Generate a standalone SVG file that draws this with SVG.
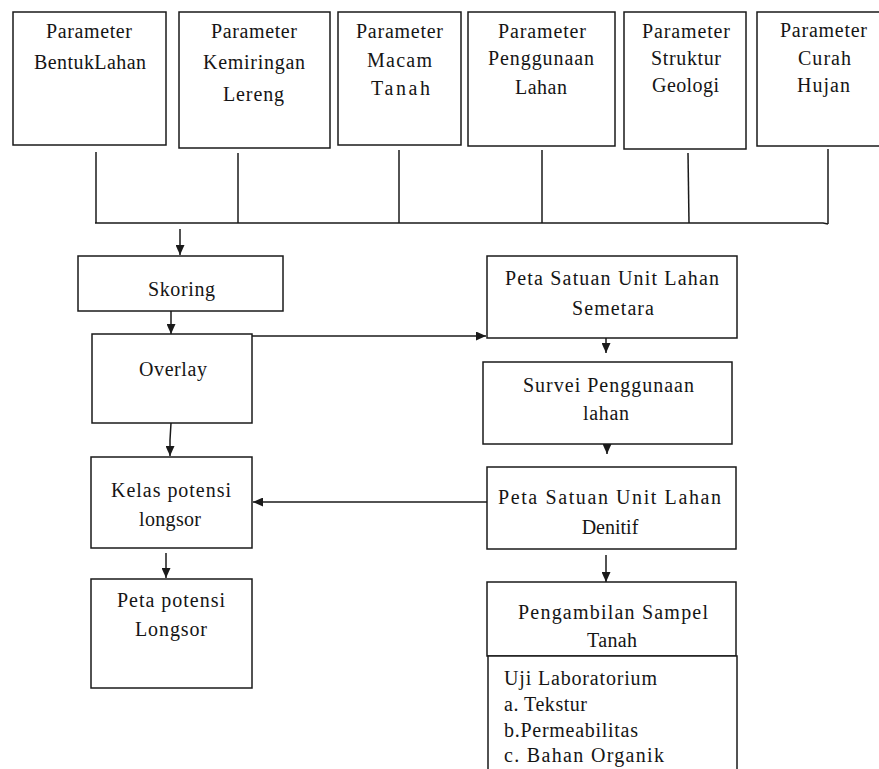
<svg xmlns="http://www.w3.org/2000/svg" width="879" height="769" viewBox="0 0 879 769" font-family="Liberation Serif, DejaVu Serif, serif">
<style>
.b{fill:#fff;stroke:#1a1a1a;stroke-width:1.5}
.t{font-family:'Liberation Serif','Times New Roman',serif;font-size:20px;fill:#151515}
.c{fill:none;stroke:#1a1a1a;stroke-width:1.5}
</style>
<defs>
<marker id="ah" viewBox="0 0 10 10" refX="10" refY="5" markerWidth="10" markerHeight="9" markerUnits="userSpaceOnUse" orient="auto" preserveAspectRatio="none">
<path d="M0,0 L10,5 L0,10 z" fill="#1a1a1a"/>
</marker>
</defs>
<rect width="879" height="769" fill="#fff"/>
<g id="connectors">
<path class="c" d="M96,152 V223"/>
<path class="c" d="M238,153 V223"/>
<path class="c" d="M399,150 V223"/>
<path class="c" d="M542,150 V223"/>
<path class="c" d="M688,153 L689,223"/>
<path class="c" d="M828,149 V224"/>
<path class="c" d="M95,223 H823 L828,224"/>
<path class="c" d="M180,229 V255" marker-end="url(#ah)"/>
<path class="c" d="M171,311 V334" marker-end="url(#ah)"/>
<path class="c" d="M252,336 H486" marker-end="url(#ah)"/>
<path class="c" d="M171,423 L170,440 V456" marker-end="url(#ah)"/>
<path class="c" d="M166,553 V578" marker-end="url(#ah)"/>
<path class="c" d="M487,502 H253" marker-end="url(#ah)"/>
<path class="c" d="M606,338 V353" marker-end="url(#ah)"/>
<path class="c" d="M607,444 V454" marker-end="url(#ah)"/>
<path class="c" d="M606,555 V582" marker-end="url(#ah)"/>
</g>
<g id="p-bentuk">
<rect class="b" x="13" y="12" width="153" height="133"/>
<text class="t" x="46" y="38" textLength="86" lengthAdjust="spacing">Parameter</text>
<text class="t" x="34" y="69" textLength="112" lengthAdjust="spacing">BentukLahan</text>
</g>
<g id="p-kemiringan">
<rect class="b" x="179" y="12" width="151" height="136"/>
<text class="t" x="211" y="38" textLength="86" lengthAdjust="spacing">Parameter</text>
<text class="t" x="203" y="69" textLength="102" lengthAdjust="spacing">Kemiringan</text>
<text class="t" x="223" y="101" textLength="61" lengthAdjust="spacing">Lereng</text>
</g>
<g id="p-macam">
<rect class="b" x="338" y="12" width="123" height="133"/>
<text class="t" x="356" y="38" textLength="87" lengthAdjust="spacing">Parameter</text>
<text class="t" x="367" y="67" textLength="65" lengthAdjust="spacing">Macam</text>
<text class="t" x="371" y="95" textLength="59" lengthAdjust="spacing">Tanah</text>
</g>
<g id="p-penggunaan">
<rect class="b" x="468" y="12" width="147" height="134"/>
<text class="t" x="498" y="38" textLength="88" lengthAdjust="spacing">Parameter</text>
<text class="t" x="488" y="65" textLength="106" lengthAdjust="spacing">Penggunaan</text>
<text class="t" x="515" y="94" textLength="52" lengthAdjust="spacing">Lahan</text>
</g>
<g id="p-struktur">
<rect class="b" x="624" y="12" width="122" height="137"/>
<text class="t" x="642" y="38" textLength="88" lengthAdjust="spacing">Parameter</text>
<text class="t" x="651" y="65" textLength="70" lengthAdjust="spacing">Struktur</text>
<text class="t" x="652" y="92" textLength="67" lengthAdjust="spacing">Geologi</text>
</g>
<g id="p-curah">
<rect class="b" x="757" y="12" width="135" height="134"/>
<text class="t" x="780" y="37" textLength="87" lengthAdjust="spacing">Parameter</text>
<text class="t" x="798" y="65" textLength="53" lengthAdjust="spacing">Curah</text>
<text class="t" x="797" y="92" textLength="53" lengthAdjust="spacing">Hujan</text>
</g>
<g id="skoring">
<rect class="b" x="78" y="256" width="205" height="55"/>
<text class="t" x="148" y="296" textLength="67" lengthAdjust="spacing">Skoring</text>
</g>
<g id="overlay">
<rect class="b" x="92" y="334" width="160" height="89"/>
<text class="t" x="139" y="376" textLength="68" lengthAdjust="spacing">Overlay</text>
</g>
<g id="kelas">
<rect class="b" x="91" y="457" width="161" height="91"/>
<text class="t" x="111" y="497" textLength="120" lengthAdjust="spacing">Kelas potensi</text>
<text class="t" x="139" y="526" textLength="62" lengthAdjust="spacing">longsor</text>
</g>
<g id="peta-potensi">
<rect class="b" x="91" y="579" width="161" height="109"/>
<text class="t" x="117" y="607" textLength="108" lengthAdjust="spacing">Peta potensi</text>
<text class="t" x="135" y="636" textLength="72" lengthAdjust="spacing">Longsor</text>
</g>
<g id="peta-semetara">
<rect class="b" x="487" y="256" width="250" height="82"/>
<text class="t" x="505" y="285" textLength="214" lengthAdjust="spacing">Peta Satuan Unit  Lahan</text>
<text class="t" x="572" y="315" textLength="82" lengthAdjust="spacing">Semetara</text>
</g>
<g id="survei">
<rect class="b" x="483" y="362" width="249" height="82"/>
<text class="t" x="523" y="392" textLength="171" lengthAdjust="spacing">Survei  Penggunaan</text>
<text class="t" x="583" y="420" textLength="46" lengthAdjust="spacing">lahan</text>
</g>
<g id="peta-denitif">
<rect class="b" x="487" y="467" width="249" height="82"/>
<text class="t" x="498" y="504" textLength="223" lengthAdjust="spacing">Peta Satuan Unit  Lahan</text>
<text class="t" x="610" y="534" text-anchor="middle">Denitif</text>
</g>
<g id="pengambilan">
<rect class="b" x="487" y="582" width="249" height="74"/>
<text class="t" x="518" y="619" textLength="190" lengthAdjust="spacing">Pengambilan  Sampel</text>
<text class="t" x="587" y="647" textLength="50" lengthAdjust="spacing">Tanah</text>
</g>
<g id="uji-lab">
<rect class="b" x="488" y="656" width="249" height="130"/>
<text class="t" x="504" y="685" textLength="153" lengthAdjust="spacing">Uji Laboratorium</text>
<text class="t" x="504" y="711" textLength="83" lengthAdjust="spacing">a. Tekstur</text>
<text class="t" x="504" y="737" textLength="134" lengthAdjust="spacing">b.Permeabilitas</text>
<text class="t" x="504" y="762" textLength="160" lengthAdjust="spacing">c. Bahan  Organik</text>
</g>
</svg>
